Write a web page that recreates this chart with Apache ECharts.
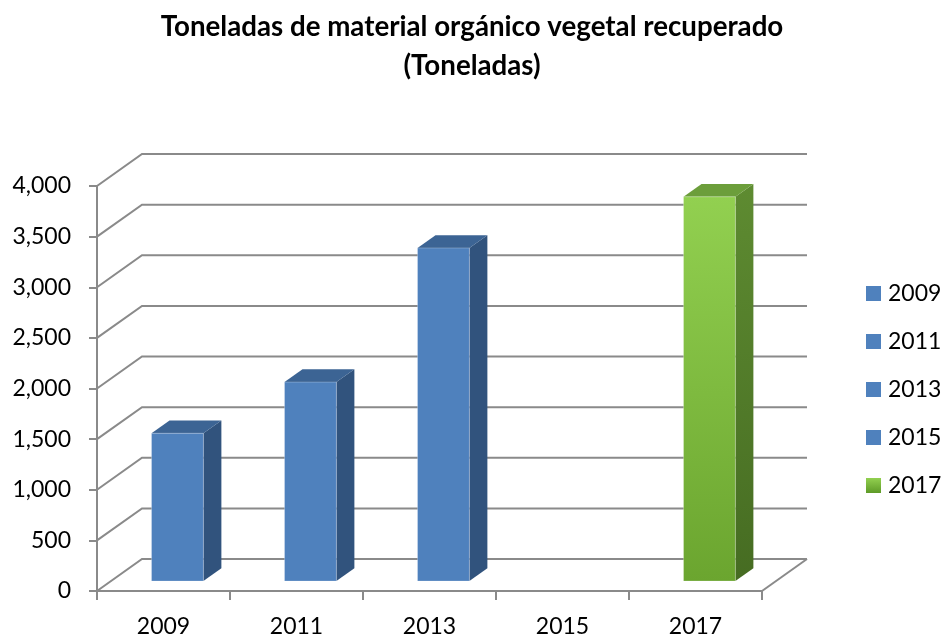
<!DOCTYPE html>
<html>
<head>
<meta charset="utf-8">
<style>
  html, body { margin: 0; padding: 0; background: #ffffff; }
  #chart { width: 944px; height: 638px; }
</style>
<script src="https://cdn.jsdelivr.net/npm/echarts@6/dist/echarts.min.js"></script>
</head>
<body>
<div id="chart"></div>
<script>
// Recovered plant organic material, tonnes per year
const categories = ['2009', '2011', '2013', '2015', '2017'];
const values = [1460, 1965, 3290, null, 3795];
const yTickValues = [0, 500, 1000, 1500, 2000, 2500, 3000, 3500, 4000];

// 3D look: depth of the back wall, and where each column sits in that depth
const DEPTH_X = 45, DEPTH_Y = -32;
const COL_FRONT = 0.31, COL_BACK = 0.71;
const COL_WIDTH = 0.39; // share of the category band

const FONT = 'Lato, "Open Sans", sans-serif';
const GRID_COLOR = '#8a8a8a';

const blue = { front: '#4F81BD', top: '#3C6494', side: '#31537D' };
const green = {
  front: { type: 'linear', x: 0, y: 0, x2: 0, y2: 1,
           colorStops: [{ offset: 0, color: '#92D050' }, { offset: 1, color: '#6BA52F' }] },
  top: '#6C9E3B',
  side: { type: 'linear', x: 0, y: 0, x2: 0, y2: 1,
          colorStops: [{ offset: 0, color: '#5E8B31' }, { offset: 1, color: '#466C22' }] }
};
const palette = [blue, blue, blue, blue, green];

const chart = echarts.init(document.getElementById('chart'), null, { renderer: 'canvas' });

// Back wall gridlines, their diagonals to the value axis, and the floor edge
function renderWall(params, api) {
  const v = api.value(0);
  const cs = params.coordSys;
  const y = api.coord([0, v])[1];
  const x0 = cs.x, x1 = cs.x + cs.width;
  const children = [{
    type: 'polyline',
    shape: { points: [[x0, y], [x0 + DEPTH_X, y + DEPTH_Y], [x1 + DEPTH_X, y + DEPTH_Y]] },
    style: { stroke: GRID_COLOR, lineWidth: 2, fill: null }
  }];
  if (v === 0) {
    children.push({
      type: 'line',
      shape: { x1: x1, y1: y, x2: x1 + DEPTH_X, y2: y + DEPTH_Y },
      style: { stroke: GRID_COLOR, lineWidth: 2 }
    });
  }
  return { type: 'group', children: children };
}

// A single column with front, top and right-hand faces
function makeColumnRenderer(colors) {
  return function (params, api) {
    const idx = api.value(0);
    const v = api.value(1);
    if (v == null || isNaN(v)) return null;
    const base = api.coord([idx, 0]);
    const top = api.coord([idx, v]);
    const band = api.size([1, 0])[0];
    const w = band * COL_WIDTH;
    const fx = DEPTH_X * COL_FRONT, fy = DEPTH_Y * COL_FRONT;
    const dx = DEPTH_X * (COL_BACK - COL_FRONT), dy = DEPTH_Y * (COL_BACK - COL_FRONT);
    const l = base[0] - w / 2 + fx, r = base[0] + w / 2 + fx;
    const b = base[1] + fy, t = top[1] + fy;
    return {
      type: 'group',
      children: [
        { type: 'polygon',
          shape: { points: [[r, t], [r + dx, t + dy], [r + dx, b + dy], [r, b]] },
          style: { fill: colors.side } },
        { type: 'polygon',
          shape: { points: [[l, t], [l + dx, t + dy], [r + dx, t + dy], [r, t]] },
          style: { fill: colors.top } },
        { type: 'rect',
          shape: { x: l, y: t, width: r - l, height: b - t },
          style: { fill: colors.front, stroke: 'rgba(255,255,255,0.25)', lineWidth: 1 } }
      ]
    };
  };
}

const columnSeries = categories.map(function (name, i) {
  return {
    name: name,
    type: 'custom',
    clip: false,
    z: 3,
    renderItem: makeColumnRenderer(palette[i]),
    encode: { x: 0, y: 1 },
    data: values[i] == null ? [] : [[i, values[i]]]
  };
});

chart.setOption({
  animation: false,
  backgroundColor: '#ffffff',
  title: {
    text: 'Toneladas de material orgánico vegetal recuperado\n(Toneladas)',
    left: 'center',
    top: 8,
    padding: 0,
    textStyle: { fontFamily: FONT, fontWeight: 'bold', fontSize: 27.7, lineHeight: 39, color: '#000000' }
  },
  legend: {
    orient: 'vertical',
    left: 866,
    top: 282,
    padding: 0,
    itemWidth: 15,
    itemHeight: 15,
    itemGap: 25,
    icon: 'rect',
    textStyle: { fontFamily: FONT, fontSize: 23, color: '#000000', padding: [0, 0, 0, 2] },
    data: categories.map(function (name, i) {
      const c = palette[i];
      return { name: name, itemStyle: { color: c === green
        ? { type: 'linear', x: 0, y: 0, x2: 0, y2: 1,
            colorStops: [{ offset: 0, color: '#92D050' }, { offset: 1, color: '#5E9A27' }] }
        : c.front } };
    })
  },
  grid: { left: 97, right: 182, top: 186, bottom: 45 },
  xAxis: {
    type: 'category',
    data: categories,
    boundaryGap: true,
    axisLine: { show: true, lineStyle: { color: GRID_COLOR, width: 2 } },
    axisTick: { show: true, length: 9, alignWithLabel: false, lineStyle: { color: GRID_COLOR, width: 2 } },
    axisLabel: { fontFamily: FONT, fontSize: 23, color: '#000000', margin: 24 },
    splitLine: { show: false }
  },
  yAxis: {
    type: 'value',
    min: 0,
    max: 4000,
    interval: 500,
    axisLine: { show: true, lineStyle: { color: GRID_COLOR, width: 2 } },
    axisTick: { show: true, length: 8, inside: false, lineStyle: { color: GRID_COLOR, width: 2 } },
    axisLabel: {
      fontFamily: FONT, fontSize: 23, color: '#000000', margin: 26,
      formatter: function (v) { return v.toLocaleString('en-US'); }
    },
    splitLine: { show: false }
  },
  series: [{
    name: 'wall',
    type: 'custom',
    clip: false,
    z: 1,
    silent: true,
    renderItem: renderWall,
    encode: { y: 0 },
    data: yTickValues.map(function (v) { return [v]; })
  }].concat(columnSeries)
});
</script>
</body>
</html>
